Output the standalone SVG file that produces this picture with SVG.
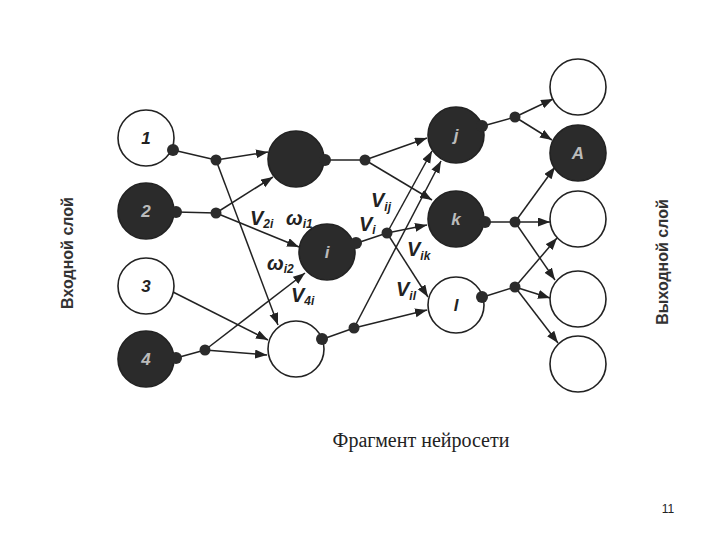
<svg xmlns="http://www.w3.org/2000/svg" width="720" height="540" viewBox="0 0 720 540">
<defs>
<marker id="arr" markerUnits="userSpaceOnUse" markerWidth="13" markerHeight="10" refX="12" refY="4.5" orient="auto">
<path d="M0,0 L12,4.5 L0,9 z" fill="#222"/>
</marker>
<style>
.n{stroke:#222;stroke-width:1.6}
.w{fill:#fff}
.d{fill:#2b2b2b}
.e{stroke:#222;stroke-width:1.5;fill:none}
.a{stroke:#222;stroke-width:1.5;fill:none;marker-end:url(#arr)}
.dot{fill:#2b2b2b}
.lb{font-family:"Liberation Sans",Arial,sans-serif;font-size:17px;font-style:italic;font-weight:bold;text-anchor:middle}
.lk{fill:#222}
.ll{fill:#bbb}
.v{font-family:"Liberation Sans",Arial,sans-serif;font-size:20px;font-style:italic;font-weight:bold;fill:#222}
.s{font-size:12px}
.side{font-family:"Liberation Sans",Arial,sans-serif;font-size:16px;font-weight:bold;fill:#333;text-anchor:middle}
</style>
</defs>
<rect width="720" height="540" fill="#fff"/>
<g id="connectors">
<path class="e" d="M173,150 L216,160"/>
<path class="e" d="M176,212 L216,213"/>
<path class="e" d="M176,358 L205,350"/>
<path class="e" d="M327,160 L365,160"/>
<path class="e" d="M357,243 L387,233"/>
<path class="e" d="M323,339 L354,328"/>
<path class="e" d="M483,126 L515,117"/>
<path class="e" d="M487,222 L515,222"/>
<path class="e" d="M483,297 L515,287"/>
<path class="a" d="M216,160 L268,152"/>
<path class="a" d="M216,213 L273,177"/>
<path class="a" d="M216,213 L299,247"/>
<path class="a" d="M216,160 L278,325"/>
<path class="a" d="M173,292 L268,340"/>
<path class="a" d="M205,350 L305,273"/>
<path class="a" d="M205,350 L267,355"/>
<path class="a" d="M365,160 L427,138"/>
<path class="a" d="M365,160 L432,200"/>
<path class="a" d="M387,233 L427,225"/>
<path class="a" d="M387,233 L432,151"/>
<path class="a" d="M354,328 L441,161"/>
<path class="a" d="M387,233 L428,297"/>
<path class="a" d="M354,328 L427,310"/>
<path class="a" d="M515,117 L553,99"/>
<path class="a" d="M515,117 L552,140"/>
<path class="a" d="M515,222 L555,167"/>
<path class="a" d="M515,222 L550,222"/>
<path class="a" d="M515,222 L555,280"/>
<path class="a" d="M515,287 L557,238"/>
<path class="a" d="M515,287 L550,298"/>
<path class="a" d="M515,287 L558,343"/>
<circle class="dot" cx="216" cy="160" r="5.5"/>
<circle class="dot" cx="216" cy="213" r="5.5"/>
<circle class="dot" cx="205" cy="350" r="5.5"/>
<circle class="dot" cx="365" cy="160" r="5.5"/>
<circle class="dot" cx="387" cy="233" r="5.5"/>
<circle class="dot" cx="354" cy="328" r="5.5"/>
<circle class="dot" cx="515" cy="117" r="5.5"/>
<circle class="dot" cx="515" cy="222" r="5.5"/>
<circle class="dot" cx="515" cy="287" r="5.5"/>
</g>
<g id="in1"><circle class="n w" cx="146" cy="138" r="28"/><circle class="dot" cx="173" cy="150" r="6"/><text class="lb lk" x="146" y="144">1</text></g>
<g id="in2"><circle class="n d" cx="146" cy="211" r="28"/><circle class="dot" cx="176" cy="212" r="6"/><text class="lb ll" x="146" y="217">2</text></g>
<g id="in3"><circle class="n w" cx="146" cy="286" r="28"/><text class="lb lk" x="146" y="292">3</text></g>
<g id="in4"><circle class="n d" cx="146" cy="359" r="28"/><circle class="dot" cx="176" cy="358" r="6"/><text class="lb ll" x="146" y="365">4</text></g>
<g id="h1"><circle class="n d" cx="296" cy="159" r="28"/><circle class="dot" cx="325" cy="160" r="6"/></g>
<g id="hi"><circle class="n d" cx="327" cy="252" r="28"/><circle class="dot" cx="356" cy="243" r="6"/><text class="lb ll" x="327" y="258">i</text></g>
<g id="h3"><circle class="n w" cx="296" cy="349" r="28"/><circle class="dot" cx="322" cy="339" r="6"/></g>
<g id="hj"><circle class="n d" cx="456" cy="135" r="28"/><circle class="dot" cx="482" cy="126" r="6"/><text class="lb ll" x="456" y="141">j</text></g>
<g id="hk"><circle class="n d" cx="456" cy="219" r="28"/><circle class="dot" cx="485" cy="222" r="6"/><text class="lb ll" x="456" y="225">k</text></g>
<g id="hl"><circle class="n w" cx="456" cy="305" r="28"/><circle class="dot" cx="482" cy="297" r="6"/><text class="lb lk" x="456" y="311">l</text></g>
<g id="o1"><circle class="n w" cx="578" cy="87" r="28"/></g>
<g id="oA"><circle class="n d" cx="578" cy="153" r="28"/><text class="lb ll" x="578" y="159">A</text></g>
<g id="o3"><circle class="n w" cx="578" cy="219" r="28"/></g>
<g id="o4"><circle class="n w" cx="578" cy="299" r="28"/></g>
<g id="o5"><circle class="n w" cx="578" cy="364" r="28"/></g>
<g id="labels">
<text class="v" x="250" y="225">V<tspan class="s" dy="3">2i</tspan></text>
<text class="v" x="286" y="225">ω<tspan class="s" dy="3">i1</tspan></text>
<text class="v" x="267" y="270">ω<tspan class="s" dy="3">i2</tspan></text>
<text class="v" x="291" y="302">V<tspan class="s" dy="3">4i</tspan></text>
<text class="v" x="371" y="207">V<tspan class="s" dy="4">ij</tspan></text>
<text class="v" x="359" y="231">V<tspan class="s" dy="3">i</tspan></text>
<text class="v" x="407" y="256">V<tspan class="s" dy="4">ik</tspan></text>
<text class="v" x="396" y="296">V<tspan class="s" dy="4">il</tspan></text>
<text class="side" transform="translate(73,253) rotate(-90)">Входной слой</text>
<text class="side" transform="translate(668,262) rotate(-90)">Выходной слой</text>
<text x="421" y="447" font-family="'Liberation Serif','Times New Roman',serif" font-size="20" fill="#222" text-anchor="middle">Фрагмент нейросети</text>
<text x="668" y="513" font-family="'Liberation Sans',Arial,sans-serif" font-size="12" fill="#222" text-anchor="middle">11</text>
</g>
</svg>
